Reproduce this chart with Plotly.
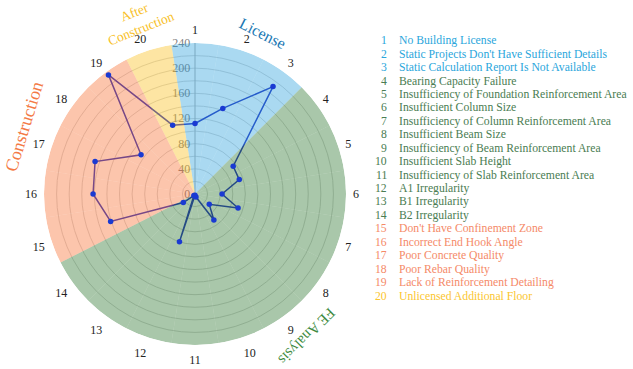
import plotly.graph_objects as go

W, H = 633, 369

categories = [str(i) for i in range(1, 21)]
values = [112, 143, 211, 75, 74, 43, 72, 28, 51, 5, 2, 80, 3, 23, 141, 162, 167, 106, 234, 115]
item_names = [
    "No Building License",
    "Static Projects Don't Have Sufficient Details",
    "Static Calculation Report Is Not Available",
    "Bearing Capacity Failure",
    "Insufficiency of Foundation Reinforcement Area",
    "Insufficient Column Size",
    "Insufficiency of Column Reinforcement Area",
    "Insufficient Beam Size",
    "Insufficiency of Beam Reinforcement Area",
    "Insufficient Slab Height",
    "Insufficiency of Slab Reinforcement Area",
    "A1 Irregularity",
    "B1 Irregularity",
    "B2 Irregularity",
    "Don't Have Confinement Zone",
    "Incorrect End Hook Angle",
    "Poor Concrete Quality",
    "Poor Rebar Quality",
    "Lack of Reinforcement Detailing",
    "Unlicensed Additional Floor",
]
groups = ["License"] * 3 + ["FE Analysis"] * 11 + ["Construction"] * 5 + ["After Construction"]
group_names = ["License", "FE Analysis", "Construction", "After Construction"]
group_titles = ["License", "FE Analysis", "Construction", "After<br>Construction"]
radial_ticks = list(range(0, 241, 20))
radial_labels = [str(v) if v % 40 == 0 else "" for v in radial_ticks]

sector_colors = {
    "License": "rgba(42,160,220,0.40)",
    "FE Analysis": "rgba(40,115,42,0.40)",
    "Construction": "rgba(247,110,48,0.40)",
    "After Construction": "rgba(250,190,25,0.40)",
}
text_colors = {
    "License": "#2aa6dc",
    "FE Analysis": "#4a7d52",
    "Construction": "#f58a68",
    "After Construction": "#fbc630",
}
title_colors = {
    "License": "#1a78b4",
    "FE Analysis": "#3c8a40",
    "Construction": "#f47a45",
    "After Construction": "#f8bf28",
}

serif = "Liberation Serif"
rmax = max(radial_ticks)

def px(x):
    return x / W

def py(y):
    return 1 - y / H

dom_x = [px(44), px(346)]
dom_y = [py(345), py(43)]

fig = go.Figure()

# bottom subplot: connecting line
fig.add_trace(go.Scatterpolar(
    r=values + values[:1], theta=categories + categories[:1],
    mode="lines", line=dict(color="#2330c0", width=1.5),
    subplot="polar", showlegend=False, hoverinfo="skip"))

# top subplot: translucent sectors + markers
fig.add_trace(go.Barpolar(
    r=[rmax] * len(categories), theta=categories,
    marker=dict(color=[sector_colors[g] for g in groups], line=dict(width=0)),
    subplot="polar2", showlegend=False, hoverinfo="skip"))
fig.add_trace(go.Scatterpolar(
    r=values, theta=categories, mode="markers",
    marker=dict(color="#1a3ad2", size=5.5),
    subplot="polar2", showlegend=False))

common_ang = dict(type="category", categoryarray=categories, rotation=90, direction="clockwise")

fig.update_layout(
    width=W, height=H,
    margin=dict(l=0, r=0, t=0, b=0),
    paper_bgcolor="white",
    showlegend=False,
    polar=dict(
        domain=dict(x=dom_x, y=dom_y),
        bgcolor="white",
        radialaxis=dict(range=[0, rmax], tickvals=radial_ticks, ticktext=radial_labels,
                        angle=90, tickangle=90, side="counterclockwise",
                        showline=True, linecolor="#b0b0b0", linewidth=1,
                        gridcolor="#d6d6d6", gridwidth=1, ticks="",
                        tickfont=dict(family=serif, size=12, color="#808080")),
        angularaxis=dict(**common_ang, showgrid=False, showline=False,
                         ticks="outside", ticklen=4, tickcolor="rgba(0,0,0,0)",
                         tickfont=dict(family=serif, size=12, color="#222222")),
    ),
    polar2=dict(
        domain=dict(x=dom_x, y=dom_y),
        bgcolor="rgba(0,0,0,0)",
        bargap=0,
        radialaxis=dict(range=[0, rmax], visible=False, showgrid=False),
        angularaxis=dict(**common_ang, showgrid=False, showline=False, ticks="",
                         showticklabels=False),
    ),
)

annotations = []
# category group titles (rotated)
title_pos = {
    "License": (263, 33, 27, 16),
    "FE Analysis": (307, 336, 135, 15),
    "Construction": (24, 127, -73, 18),
    "After Construction": (138, 21, -22, 13.5),
}
for g, t in zip(group_names, group_titles):
    x, y, ang, sz = title_pos[g]
    annotations.append(dict(x=px(x), y=py(y), xref="paper", yref="paper", text=t,
                            showarrow=False, textangle=ang, xanchor="center", yanchor="middle",
                            font=dict(family=serif, size=sz, color=title_colors[g])))

# right-hand legend list
y0, dy = 40.7, 13.44
for i, (c, name, g) in enumerate(zip(categories, item_names, groups)):
    yy = y0 + i * dy
    annotations.append(dict(x=px(389), y=py(yy), xref="paper", yref="paper", text=c,
                            showarrow=False, xanchor="right", yanchor="middle",
                            font=dict(family=serif, size=11.7, color=text_colors[g])))
    annotations.append(dict(x=px(397), y=py(yy), xref="paper", yref="paper", text=name,
                            showarrow=False, xanchor="left", yanchor="middle",
                            font=dict(family=serif, size=11.7, color=text_colors[g])))

fig.update_layout(annotations=annotations)
fig.write_html("out.html", config={"displayModeBar": False},
               post_script="document.body.style.margin='0';")
